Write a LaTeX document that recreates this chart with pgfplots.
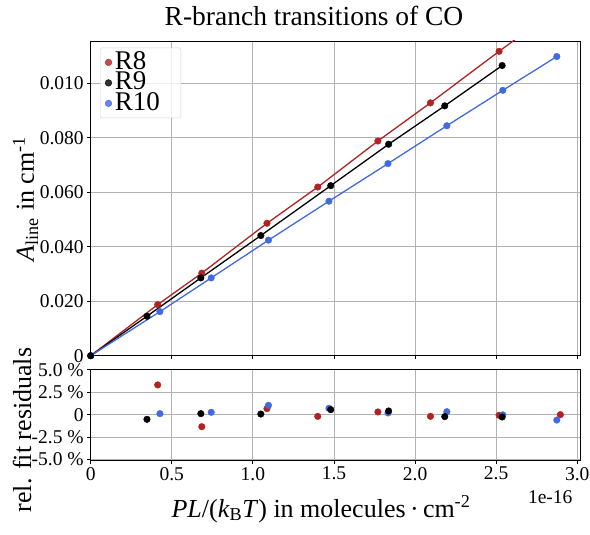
\documentclass[border=0pt]{standalone}
\usepackage{fontspec}
\setmainfont{Liberation Serif}
\usepackage{pgfplots}
\pgfplotsset{compat=1.18}
\definecolor{rred}{RGB}{178,34,34}
\definecolor{rblue}{RGB}{65,105,225}
\definecolor{gridgray}{RGB}{178,178,178}

\pgfplotsset{
  coaxis/.style={
    scale only axis, width=489.3pt, anchor=north west,
    xmin=0, xmax=3.017,
    xtick={0,0.5,1,1.5,2,2.5,3},
    grid=major, major grid style={gridgray, line width=0.9pt},
    axis line style={black, line width=0.9pt},
    tick align=outside, tick pos=left, major tick length=3.5pt,
    every tick/.style={black, line width=0.9pt},
    tick label style={font=\fontsize{19.5}{20}\selectfont},
    /pgf/number format/assume math mode=true,
  },
  fitline/.style={line width=1.3pt, mark=none},
  dots/.style={only marks, mark=*, mark size=3.3pt},
}

\begin{document}
\begin{tikzpicture}
\useasboundingbox (0,0) rectangle (590pt,-535pt);

% main panel
\begin{axis}[coaxis,
  at={(90.7pt,-41pt)}, height=314.7pt,
  ymin=0, ymax=0.1155,
  ytick={0,0.02,0.04,0.06,0.08,0.1},
  yticklabels={0,0.020,0.040,0.060,0.080,0.010},
  xticklabels={},
  legend cell align=left,
  legend style={anchor=north west, at={(rel axis cs:0,1)},
    xshift=9.3pt, yshift=-6.7pt,
    draw=gray!35, rounded corners=2pt, fill=white, fill opacity=0.8, text opacity=1,
    inner xsep=5pt, inner ysep=5.5pt,
    font=\fontsize{27}{27}\selectfont,
    nodes={inner sep=0pt, text height=16pt, text depth=2pt},
    row sep=2.5pt, column sep=3pt},
  legend image code/.code={\draw[#1] plot coordinates {(0pt,0pt)};},
]
\addlegendimage{dots, rred}
\addlegendentry{R8}
\addlegendimage{dots, black}
\addlegendentry{R9}
\addlegendimage{dots, rblue}
\addlegendentry{R10\hspace*{16pt}}

\addplot[fitline, rred, forget plot] coordinates {
 (0,0) (0.413,0.01875) (0.685,0.0303) (1.087,0.0486) (1.400,0.0619) (1.771,0.0788) (2.095,0.0928) (2.518,0.1117) (2.896,0.1283)};
\addplot[fitline, black, forget plot] coordinates {
 (0,0) (0.347,0.01449) (0.679,0.02855) (1.049,0.0441) (1.480,0.0624) (1.837,0.0776) (2.183,0.0917) (2.537,0.1065)};
\addplot[fitline, rblue, forget plot] coordinates {
 (0,0) (0.427,0.01618) (0.743,0.02855) (1.096,0.0424) (1.469,0.0567) (1.833,0.0705) (2.196,0.0844) (2.541,0.0974) (2.874,0.1098)};

\addplot[dots, rred, forget plot] coordinates {
 (0,0) (0.413,0.01875) (0.685,0.0303) (1.087,0.0486) (1.400,0.0619) (1.771,0.0788) (2.095,0.0928) (2.518,0.1117)};
\addplot[dots, rblue, forget plot] coordinates {
 (0,0) (0.427,0.01618) (0.743,0.02855) (1.096,0.0424) (1.469,0.0567) (1.833,0.0705) (2.196,0.0844) (2.541,0.0974) (2.874,0.1098)};
\addplot[dots, black, forget plot] coordinates {
 (0,0) (0.347,0.01449) (0.679,0.02855) (1.049,0.0441) (1.480,0.0624) (1.837,0.0776) (2.183,0.0917) (2.537,0.1065)};
\end{axis}

% residual panel
\begin{axis}[coaxis,
  at={(90.7pt,-369.3pt)}, height=90.7pt,
  ymin=-5.05, ymax=5.05,
  ytick={-5,-2.5,0,2.5,5},
  yticklabels={-5.0 \%,-2.5 \%,0,2.5 \%,5.0 \%},
  xticklabels={0,0.5,1.0,1.5,2.0,2.5,3.0},
]
\addplot[dots, rred] coordinates {
 (0.413,3.31) (0.685,-1.34) (1.087,0.67) (1.400,-0.19) (1.771,0.30) (2.095,-0.19) (2.518,-0.07) (2.896,0.0)};
\addplot[dots, rblue] coordinates {
 (0.427,0.11) (0.743,0.26) (1.096,1.04) (1.469,0.71) (1.833,0.19) (2.196,0.33) (2.541,-0.02) (2.874,-0.60)};
\addplot[dots, black] coordinates {
 (0.347,-0.52) (0.679,0.11) (1.049,0.07) (1.480,0.56) (1.837,0.41) (2.183,-0.22) (2.537,-0.26)};
\end{axis}

\node[anchor=base, font=\fontsize{27.5}{27.5}\selectfont] at (314pt,-26pt) {R-branch transitions of CO};
\node[anchor=base, font=\fontsize{26}{26}\selectfont] at (321pt,-517pt)
  {\textit{PL}/(\textit{k}\textsubscript{B}\textit{T}) in molecules\,·\,cm\textsuperscript{-2}};
\node[anchor=base east, font=\fontsize{19.5}{20}\selectfont] at (576pt,-503pt) {1e-16};
\node[anchor=base, rotate=90, font=\fontsize{26}{26}\selectfont] at (34pt,-199pt)
  {\textit{A}\textsubscript{line} in cm\textsuperscript{-1}};
\node[anchor=base, rotate=90, font=\fontsize{26}{26}\selectfont] at (31pt,-430pt)
  {rel. fit residuals};
\end{tikzpicture}
\end{document}
